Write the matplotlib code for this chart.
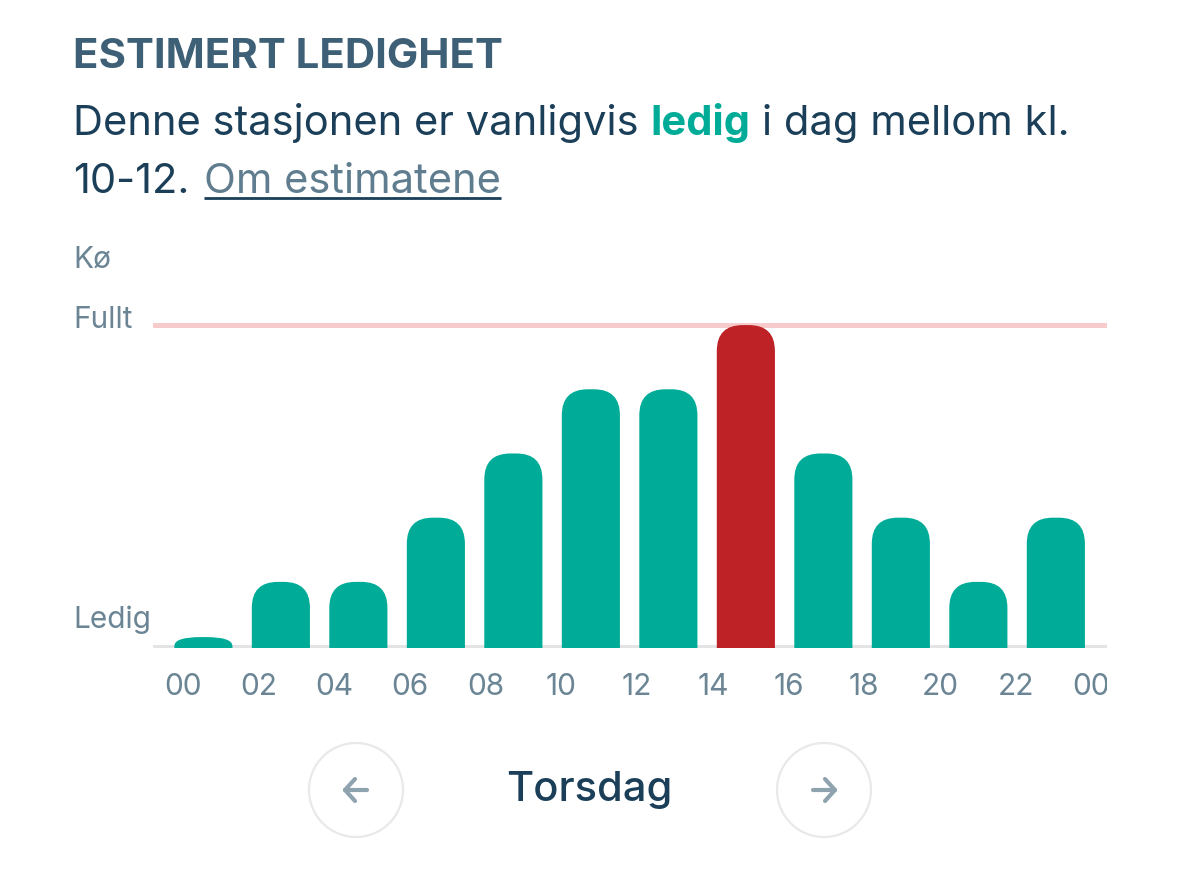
import matplotlib
matplotlib.use('Agg')
import matplotlib.pyplot as plt
from matplotlib.patches import FancyBboxPatch, Circle
from matplotlib.transforms import Bbox, TransformedBbox

plt.rcParams['font.family'] = ['Inter', 'DejaVu Sans']

# data: estimated occupancy per 2-hour slot (0 = Ledig, 5 = Fullt, 6 = Kø)
hours = [0, 2, 4, 6, 8, 10, 12, 14, 16, 18, 20, 22]
levels = [0.14, 1, 1, 2, 3, 4, 4, 5, 3, 2, 1, 2]
full_level = 5
tick_hours = [0, 2, 4, 6, 8, 10, 12, 14, 16, 18, 20, 22, 24]
tick_labels = ['00', '02', '04', '06', '08', '10', '12', '14', '16', '18', '20', '22', '00']

TEAL = '#00AC97'
RED = '#BE2126'
PINK = '#F7CBCC'
GREY_LINE = '#E3E4E5'
LABEL = '#6B8595'
DARK = '#1B3F58'
TITLE = '#3E6076'

W, H = 1179, 889
fig = plt.figure(figsize=(W / 100, H / 100), dpi=100)

# overlay axes in pixel coordinates for texts and buttons
ov = fig.add_axes([0, 0, 1, 1])
ov.set_xlim(0, W)
ov.set_ylim(H, 0)
ov.axis('off')

# chart axes
x_left, x_right = 153, 1107
y_base_px, px_per_level = 648, 64.2
ylo, yhi = -0.03, 5.5
ax_h = (yhi - ylo) * px_per_level
ax = fig.add_axes([x_left / W, (H - y_base_px) / H, (x_right - x_left) / W, ax_h / H])
ax.set_facecolor('none')
xlo, xhi = -0.30, 24.32
ax.set_xlim(xlo, xhi)
ax.set_ylim(ylo, yhi)
for s in ax.spines.values():
    s.set_visible(False)
ax.set_yticks([])

px_per_hour = (x_right - x_left) / (xhi - xlo)
ax.axhline(full_level, color=PINK, lw=3.6, zorder=1)
ax.axhline(0, color=GREY_LINE, lw=2.2, zorder=1)

bar_w = 1.5
r_px = 26
r_x = r_px / px_per_hour
r_y_full = r_px / px_per_level
for i, (h, v) in enumerate(zip(hours, levels)):
    col = RED if v >= full_level else TEAL
    ry = min(r_y_full, v)
    p = FancyBboxPatch((h + 1 - bar_w / 2, -1), bar_w, v + 1,
                       boxstyle=f"round,pad=0,rounding_size={r_x}",
                       mutation_aspect=ry / r_x, fc=col, ec='none', zorder=2)
    ax.add_patch(p)

# hour labels are spread a little tighter than the bars
ax.set_xticks([t * 0.977 + 0.47 for t in tick_hours])
ax.set_xticklabels(tick_labels)
ax.tick_params(axis='x', length=0, pad=18, labelsize=21.5, labelcolor=LABEL)
clipbox = TransformedBbox(Bbox([[0, 0], [x_right / W, 1]]), fig.transFigure)
for lab in ax.get_xticklabels():
    lab.set_clip_box(clipbox)
    lab.set_clip_on(True)

# level labels
ov.text(73, 260, 'Kø', fontsize=21.5, color=LABEL, va='center', ha='left')
ov.text(73, 320, 'Fullt', fontsize=21.5, color=LABEL, va='center', ha='left')
ov.text(73, 620, 'Ledig', fontsize=21.5, color=LABEL, va='center', ha='left')

# header texts
ov.text(73, 68, 'ESTIMERT LEDIGHET', fontsize=30.2, fontweight='bold', color=TITLE,
        va='baseline', ha='left')

rend = fig.canvas.get_renderer()


def width_of(s, **kw):
    t = ov.text(0, 0, s, **kw)
    w = t.get_window_extent(renderer=rend).width
    t.remove()
    return w


body = dict(fontsize=30, color=DARK, va='baseline', ha='left')
space = width_of('a a', **body) - width_of('aa', **body)

x = 73
parts = [('Denne stasjonen er vanligvis', {}), ('ledig', dict(color=TEAL, fontweight='bold')),
         ('i dag mellom kl.', {})]
for s, extra in parts:
    kw = dict(body)
    kw.update(extra)
    t = ov.text(x, 135, s, **kw)
    x = t.get_window_extent(renderer=rend).x1 + space

t = ov.text(73, 193, '10-12.', **body)
x = t.get_window_extent(renderer=rend).x1 + space + 3
kw = dict(body)
kw['color'] = '#5F7D8E'
t = ov.text(x, 193, 'Om estimatene', **kw)
bb = t.get_window_extent(renderer=rend)
ov.plot([bb.x0, bb.x1], [198, 198], color=DARK, lw=2, solid_capstyle='butt')

# day navigation buttons
arrow_col = '#8FA3AF'
for cx, d in [(356, -1), (824, 1)]:
    ov.add_patch(Circle((cx, 790), 47, fc='none', ec='#E7E9EA', lw=1.6))
    ov.plot([cx - 11, cx + 11], [790, 790], color=arrow_col, lw=3,
            solid_capstyle='round')
    ov.plot([cx + d * 1, cx + d * 11, cx + d * 1], [779, 790, 801], color=arrow_col,
            lw=3, solid_capstyle='round', solid_joinstyle='round')
ov.text(589, 790, 'Torsdag', fontsize=30, fontweight='medium', color=DARK,
        ha='center', va='center')

fig.savefig('out.png', dpi=100)
